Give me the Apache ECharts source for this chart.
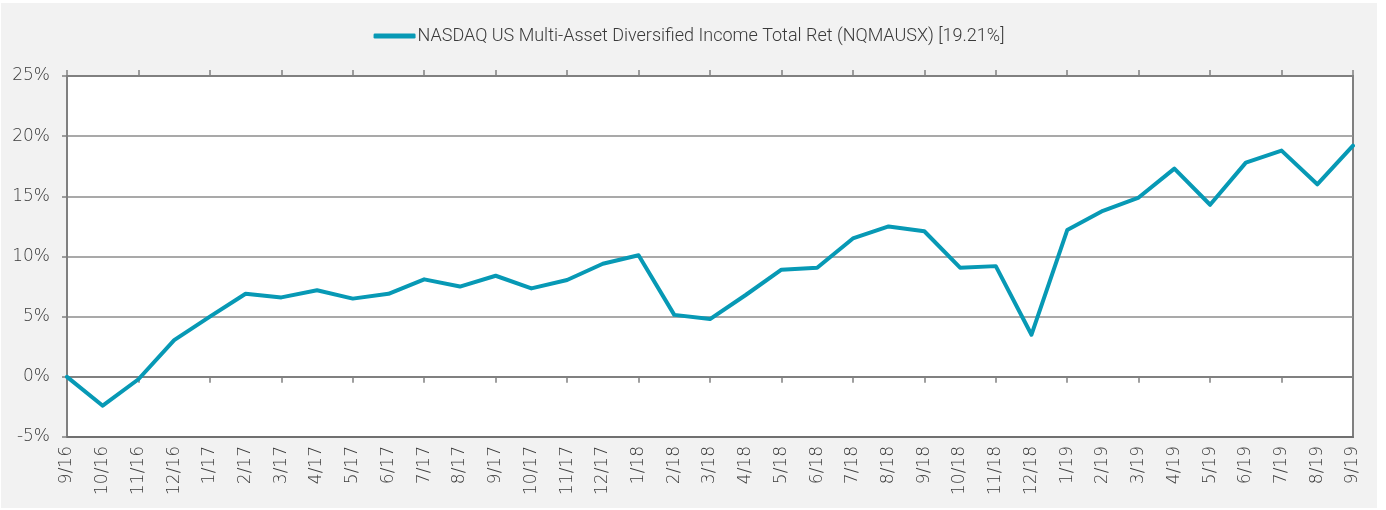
<!DOCTYPE html>
<html>
<head>
<meta charset="utf-8">
<script src="https://cdn.jsdelivr.net/npm/echarts@6/dist/echarts.min.js"></script>
<style>
  html, body { margin: 0; padding: 0; background: #ffffff; }
  #chart { position: absolute; left: 1px; top: 3px; width: 1376px; height: 505px; background: #f2f2f2; }
</style>
</head>
<body>
<div id="chart"></div>
<script>
// Month-end labels, Sep 2016 through Sep 2019
const months = [
  '9/16', '10/16', '11/16', '12/16',
  '1/17', '2/17', '3/17', '4/17', '5/17', '6/17', '7/17', '8/17', '9/17', '10/17', '11/17', '12/17',
  '1/18', '2/18', '3/18', '4/18', '5/18', '6/18', '7/18', '8/18', '9/18', '10/18', '11/18', '12/18',
  '1/19', '2/19', '3/19', '4/19', '5/19', '6/19', '7/19', '8/19', '9/19'
];

// Cumulative total return, percent
const totalReturn = [
  0.0, -2.4, -0.2, 3.05,
  5.0, 6.9, 6.6, 7.2, 6.5, 6.9, 8.1, 7.5, 8.4, 7.35, 8.05, 9.4,
  10.1, 5.15, 4.8, 6.8, 8.9, 9.07, 11.5, 12.5, 12.1, 9.07, 9.2, 3.5,
  12.2, 13.8, 14.9, 17.3, 14.3, 17.8, 18.8, 16.0, 19.21
];

const seriesName = 'NASDAQ US Multi-Asset Diversified Income Total Ret (NQMAUSX) [19.21%]';

const yMin = -5, yMax = 25, yStep = 5;

const legendFont = 'Roboto, "Open Sans", sans-serif';
const axisFont = '"DejaVu Sans", "Open Sans", sans-serif';
const textColor = '#3a3a3a';
const axisGray = '#808080';
const lineColor = '#0799b5';

const chart = echarts.init(document.getElementById('chart'), null, { renderer: 'canvas' });

chart.setOption({
  animation: false,
  backgroundColor: '#f2f2f2',
  legend: {
    top: 19,
    left: 'center',
    icon: 'roundRect',
    itemWidth: 42,
    itemHeight: 5,
    itemStyle: { color: lineColor, borderWidth: 0 },
    textStyle: { fontFamily: legendFont, fontSize: 18, fontWeight: 300, color: textColor, padding: [0, 0, 0, -3] },
    data: [seriesName]
  },
  grid: {
    left: 66, top: 73, width: 1286, height: 361,
    show: true,
    backgroundColor: '#ffffff',
    borderColor: axisGray,
    borderWidth: 2
  },
  xAxis: [
    {
      // month labels along the bottom edge
      type: 'category',
      data: months,
      boundaryGap: false,
      position: 'bottom',
      axisLine: { onZero: false, show: true, lineStyle: { color: '#707070', width: 2 } },
      axisTick: { show: false },
      axisLabel: {
        rotate: 90,
        margin: 9,
        fontFamily: axisFont,
        fontSize: 17,
        fontWeight: 200,
        color: textColor
      },
      splitLine: { show: false }
    },
    {
      // zero line, ticks below it
      type: 'category',
      data: months,
      boundaryGap: false,
      position: 'bottom',
      axisLine: { onZero: true, show: true, lineStyle: { color: axisGray, width: 2 } },
      axisTick: { show: true, length: 6, lineStyle: { color: axisGray, width: 1.5 } },
      axisLabel: { show: false },
      splitLine: { show: false }
    },
    {
      // zero line, ticks above it
      type: 'category',
      data: months,
      boundaryGap: false,
      position: 'top',
      axisLine: { onZero: true, show: true, lineStyle: { color: axisGray, width: 2 } },
      axisTick: { show: true, length: 6, lineStyle: { color: axisGray, width: 1.5 } },
      axisLabel: { show: false },
      splitLine: { show: false }
    }
  ],
  yAxis: {
    type: 'value',
    min: yMin,
    max: yMax,
    interval: yStep,
    axisLine: { show: true, lineStyle: { color: axisGray, width: 2 } },
    axisTick: { show: true, length: 5, lineStyle: { color: axisGray, width: 1.5 } },
    axisLabel: {
      formatter: '{value}%',
      margin: 17,
      fontFamily: axisFont,
      fontSize: 17,
      fontWeight: 200,
      color: textColor
    },
    splitLine: { show: true, lineStyle: { color: '#8c8c8c', width: 1.5 } }
  },
  series: [
    {
      name: seriesName,
      type: 'line',
      xAxisIndex: 0,
      data: totalReturn,
      symbol: 'none',
      lineStyle: { color: lineColor, width: 4, cap: 'round', join: 'round' },
      itemStyle: { color: lineColor },
      z: 5
    }
  ]
});
</script>
</body>
</html>
